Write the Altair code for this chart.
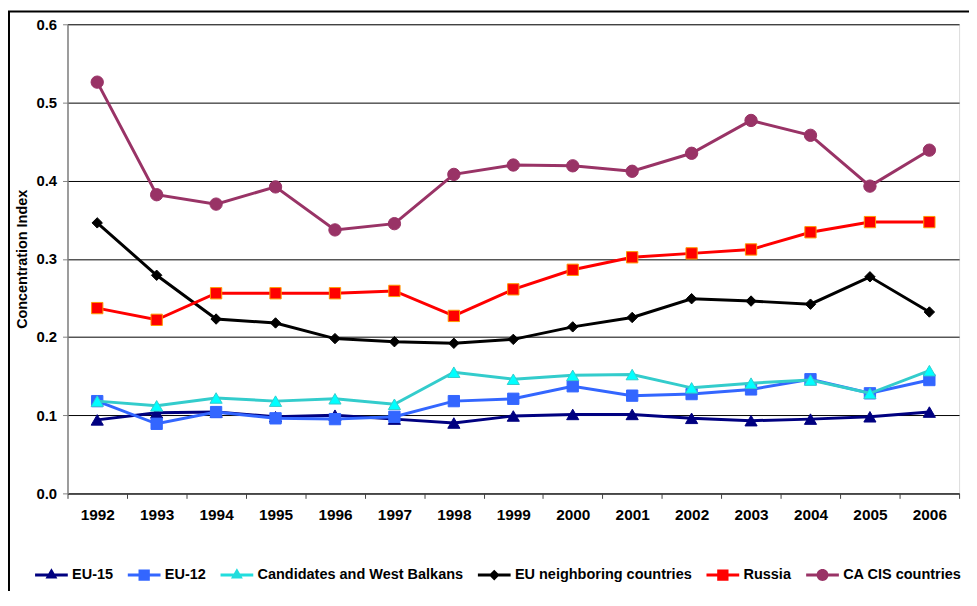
import altair as alt
import pandas as pd

years = [str(y) for y in range(1992, 2007)]
series = ["EU-15", "EU-12", "Candidates and West Balkans",
          "EU neighboring countries", "Russia", "CA CIS countries"]

eu15 = [0.094, 0.103, 0.104, 0.098, 0.100, 0.095, 0.090, 0.099, 0.101, 0.101, 0.096, 0.093, 0.095, 0.098, 0.104]
eu12 = [0.118, 0.089, 0.104, 0.096, 0.095, 0.098, 0.118, 0.121, 0.137, 0.125, 0.127, 0.133, 0.146, 0.128, 0.145]
cand = [0.118, 0.112, 0.122, 0.118, 0.121, 0.114, 0.155, 0.146, 0.151, 0.152, 0.135, 0.141, 0.145, 0.128, 0.157]
neigh = [0.346, 0.279, 0.223, 0.218, 0.198, 0.194, 0.192, 0.197, 0.213, 0.225, 0.249, 0.246, 0.242, 0.277, 0.232]
russia = [0.237, 0.222, 0.256, 0.256, 0.256, 0.259, 0.227, 0.261, 0.286, 0.302, 0.307, 0.312, 0.334, 0.347, 0.347]
cacis = [0.526, 0.382, 0.370, 0.392, 0.337, 0.345, 0.408, 0.420, 0.419, 0.412, 0.435, 0.477, 0.458, 0.393, 0.439]

values = [eu15, eu12, cand, neigh, russia, cacis]

line_colors = ["#000080", "#3366FF", "#33CCCC", "#000000", "#FF0000", "#993366"]
fill_colors = ["#000080", "#3366FF", "#00FFFF", "#000000", "#FF0000", "#993366"]
stroke_colors = ["#000080", "#3366FF", "#33CCCC", "#000000", "#FF9900", "#993366"]
shapes = ["triangle-up", "square", "triangle-up", "diamond", "square", "circle"]
sizes = [150, 130, 150, 110, 130, 155]
legend_fill = ["#000080", "#3366FF", "#22DDDD", "#000000", "#FF0000", "#993366"]

bar = "M-2.75,-0.25H2.75V0.25H-2.75Z"
legend_paths = [
    bar + "M-1,0.58L0,-1.15L1,0.58Z",
    bar + "M-0.95,-0.95H0.95V0.95H-0.95Z",
    bar + "M-1,0.58L0,-1.15L1,0.58Z",
    bar + "M-0.9,0L0,-0.9L0.9,0L0,0.9Z",
    bar + "M-0.95,-0.95H0.95V0.95H-0.95Z",
    bar + "M-1,0A1,1 0 1,1 1,0A1,1 0 1,1 -1,0Z",
]

rows = []
for s, vals in zip(series, values):
    for y, v in zip(years, vals):
        rows.append({"year": y, "series": s, "value": v})
df = pd.DataFrame(rows)

FONT = "Liberation Sans"

x_enc = alt.X("year:N", bandPosition=0.5,
              scale=alt.Scale(type="band", domain=years, paddingInner=0, paddingOuter=0),
              axis=alt.Axis(title=None, labelAngle=0, labelFont=FONT, labelFontSize=15.5,
                            labelFontWeight="bold", labelColor="black", labelPadding=9,
                            tickBand="extent", tickSize=5, tickColor="#404040",
                            domainColor="#404040", domainWidth=1.5, grid=False))
y_enc = alt.Y("value:Q",
              scale=alt.Scale(domain=[0, 0.6], nice=False, zero=True),
              axis=alt.Axis(title="Concentration Index", values=[0, 0.1, 0.2, 0.3, 0.4, 0.5, 0.6],
                            format=".1f", labelFont=FONT, labelFontSize=15, labelFontWeight="bold",
                            labelColor="black", labelPadding=6, tickSize=5, tickColor="#808080",
                            domainColor="#808080", domainWidth=1.5, grid=True, gridColor="black",
                            gridWidth=1, titleFont=FONT, titleFontSize=14.5, titleFontWeight="bold",
                            titleColor="black", titlePadding=6))

base = alt.Chart(df)

layers = []
frame = alt.Chart(alt.Data(values=[{"f": 1}])).mark_rect(
    filled=False, stroke="black", strokeWidth=2
).encode(x=alt.value(-59), x2=alt.value(1200), y=alt.value(-13), y2=alt.value(1200))
layers.append(frame)

for i, s in enumerate(series):
    sub = base.transform_filter(alt.datum.series == s)
    line = sub.mark_line(color=line_colors[i], strokeWidth=3).encode(x=x_enc, y=y_enc)
    pts = sub.mark_point(filled=True, shape=shapes[i], size=sizes[i], fill=fill_colors[i],
                         stroke=stroke_colors[i], strokeWidth=1, opacity=1).encode(x=x_enc, y=y_enc)
    layers += [line, pts]

leg = alt.Legend(title=None, orient="none", legendX=-34, legendY=548, direction="horizontal",
                 columnPadding=13.5, symbolSize=144, symbolOffset=10.5, labelOffset=13.5,
                 symbolStrokeWidth=0, symbolOpacity=1, labelFont=FONT, labelFontSize=14.6,
                 labelFontWeight="bold", labelColor="black", labelLimit=500, padding=0)

legend_layer = base.mark_point(filled=True, opacity=0).encode(
    x=x_enc, y=y_enc,
    color=alt.Color("series:N", scale=alt.Scale(domain=series, range=legend_fill), legend=leg),
    shape=alt.Shape("series:N", scale=alt.Scale(domain=series, range=legend_paths), legend=leg),
)
layers.append(legend_layer)

chart = alt.layer(*layers).properties(
    width=899, height=473,
    autosize=alt.AutoSizeParams(type="none"),
    padding={"left": 60, "top": 14, "right": 10, "bottom": 96},
).configure_view(stroke=None).configure(background="white")

chart.save("out.html", embed_options={"renderer": "svg", "actions": False})
